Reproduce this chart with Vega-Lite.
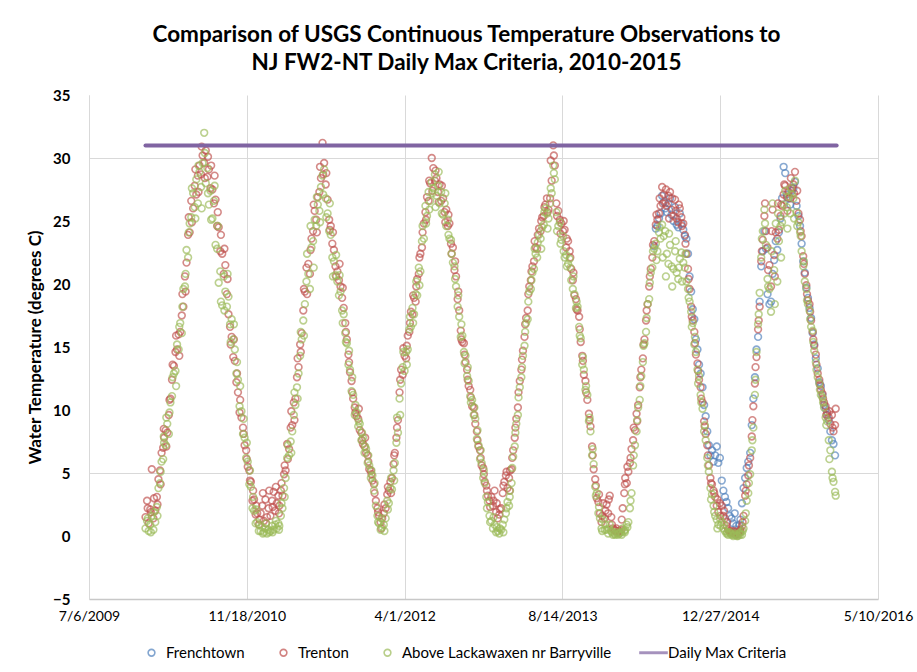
{
  "$schema": "https://vega.github.io/schema/vega-lite/v6.json",
  "width": 789,
  "height": 504,
  "autosize": "none",
  "padding": {"left": 89, "top": 95, "right": 39, "bottom": 73},
  "background": "white",
  "title": {
    "text": ["Comparison of USGS Continuous Temperature Observations to", "NJ FW2-NT Daily Max Criteria, 2010-2015"],
    "font": "Lato",
    "fontSize": 22.5,
    "fontWeight": "bold",
    "color": "#000000",
    "anchor": "middle",
    "dx": -17,
    "offset": 14,
    "lineHeight": 28
  },
  "config": {
    "view": {"stroke": null},
    "axis": {"ticks": false, "labelColor": "#000000", "titleColor": "#000000"}
  },
  "datasets": {
    "crit": [{"d": "2010-01-01", "t": 31}, {"d": "2015-12-31", "t": 31}],
    "fr": [
{"d":"2014-06-01","t":23.0},{"d":"2014-06-06","t":24.4},{"d":"2014-06-11","t":24.6},{"d":"2014-06-16","t":25.2},{"d":"2014-06-21","t":25.6},{"d":"2014-06-26","t":27.0},
{"d":"2014-07-01","t":26.5},{"d":"2014-07-06","t":26.0},{"d":"2014-07-11","t":25.7},{"d":"2014-07-16","t":26.4},{"d":"2014-07-21","t":26.8},{"d":"2014-07-26","t":25.5},
{"d":"2014-08-01","t":25.0},{"d":"2014-08-06","t":26.1},{"d":"2014-08-11","t":24.7},{"d":"2014-08-16","t":24.5},{"d":"2014-08-21","t":25.6},{"d":"2014-08-26","t":24.8},
{"d":"2014-09-01","t":24.3},{"d":"2014-09-06","t":23.8},{"d":"2014-09-11","t":23.6},{"d":"2014-09-16","t":22.4},{"d":"2014-09-21","t":20.6},{"d":"2014-09-26","t":19.4},
{"d":"2014-10-01","t":18.0},{"d":"2014-10-06","t":17.2},{"d":"2014-10-11","t":15.6},{"d":"2014-10-16","t":14.8},{"d":"2014-10-21","t":13.6},{"d":"2014-10-26","t":12.9},
{"d":"2014-11-01","t":11.8},{"d":"2014-11-06","t":10.4},{"d":"2014-11-11","t":9.5},{"d":"2014-11-16","t":8.3},{"d":"2014-11-21","t":7.2},{"d":"2014-11-26","t":6.4},
{"d":"2014-12-01","t":6.8},{"d":"2014-12-06","t":5.9},{"d":"2014-12-11","t":6.4},{"d":"2014-12-16","t":7.1},{"d":"2014-12-21","t":5.8},{"d":"2014-12-26","t":6.2},
{"d":"2015-01-01","t":4.4},{"d":"2015-01-06","t":3.6},{"d":"2015-01-11","t":3.1},{"d":"2015-01-16","t":2.7},{"d":"2015-01-21","t":2.2},{"d":"2015-01-26","t":1.6},
{"d":"2015-02-01","t":1.4},{"d":"2015-02-06","t":1.0},{"d":"2015-02-11","t":1.8},{"d":"2015-02-16","t":0.8},{"d":"2015-02-21","t":0.5},{"d":"2015-02-26","t":0.9},
{"d":"2015-03-01","t":1.3},{"d":"2015-03-06","t":2.6},{"d":"2015-03-11","t":3.8},{"d":"2015-03-16","t":4.6},{"d":"2015-03-21","t":5.4},{"d":"2015-03-26","t":5.9},
{"d":"2015-04-01","t":6.6},{"d":"2015-04-06","t":8.8},{"d":"2015-04-11","t":10.9},{"d":"2015-04-16","t":12.6},{"d":"2015-04-21","t":14.8},{"d":"2015-04-26","t":15.8},
{"d":"2015-05-01","t":18.6},{"d":"2015-05-06","t":21.4},{"d":"2015-05-11","t":22.6},{"d":"2015-05-16","t":24.2},{"d":"2015-05-21","t":22.8},{"d":"2015-05-26","t":19.2},
{"d":"2015-06-01","t":18.4},{"d":"2015-06-06","t":18.6},{"d":"2015-06-11","t":20.8},{"d":"2015-06-16","t":21.9},{"d":"2015-06-21","t":23.4},{"d":"2015-06-26","t":22.7},
{"d":"2015-07-01","t":24.1},{"d":"2015-07-06","t":25.2},{"d":"2015-07-11","t":26.8},{"d":"2015-07-16","t":29.3},{"d":"2015-07-21","t":28.8},{"d":"2015-07-26","t":27.1},
{"d":"2015-08-01","t":26.8},{"d":"2015-08-06","t":26.3},{"d":"2015-08-11","t":27.4},{"d":"2015-08-16","t":27.6},{"d":"2015-08-21","t":28.1},{"d":"2015-08-26","t":26.2},
{"d":"2015-09-01","t":25.4},{"d":"2015-09-06","t":24.6},{"d":"2015-09-11","t":23.2},{"d":"2015-09-16","t":21.8},{"d":"2015-09-21","t":20.9},{"d":"2015-09-26","t":19.7},
{"d":"2015-10-01","t":18.9},{"d":"2015-10-06","t":18.1},{"d":"2015-10-11","t":17.3},{"d":"2015-10-16","t":16.1},{"d":"2015-10-21","t":15.2},{"d":"2015-10-26","t":14.1},
{"d":"2015-11-01","t":13.3},{"d":"2015-11-06","t":12.2},{"d":"2015-11-11","t":11.9},{"d":"2015-11-16","t":11.2},{"d":"2015-11-21","t":10.4},{"d":"2015-11-26","t":10.1},
{"d":"2015-12-01","t":9.6},{"d":"2015-12-06","t":9.2},{"d":"2015-12-11","t":8.3},{"d":"2015-12-16","t":7.6},{"d":"2015-12-21","t":7.3},{"d":"2015-12-26","t":6.4}
    ],
    "tr": [
{"d":"2010-01-01","t":1.5},{"d":"2010-01-06","t":2.8},{"d":"2010-01-11","t":1.0},{"d":"2010-01-16","t":2.1},{"d":"2010-01-21","t":5.3},{"d":"2010-01-26","t":1.4},
{"d":"2010-02-01","t":2.0},{"d":"2010-02-06","t":3.1},{"d":"2010-02-11","t":4.5},{"d":"2010-02-16","t":5.2},{"d":"2010-02-21","t":6.6},{"d":"2010-02-26","t":7.0},
{"d":"2010-03-01","t":7.8},{"d":"2010-03-06","t":8.4},{"d":"2010-03-11","t":8.2},{"d":"2010-03-16","t":9.6},{"d":"2010-03-21","t":10.9},{"d":"2010-03-26","t":12.4},
{"d":"2010-04-01","t":13.5},{"d":"2010-04-06","t":14.6},{"d":"2010-04-11","t":14.8},{"d":"2010-04-16","t":16.0},{"d":"2010-04-21","t":16.2},{"d":"2010-04-26","t":17.5},
{"d":"2010-05-01","t":18.2},{"d":"2010-05-06","t":20.6},{"d":"2010-05-11","t":21.7},{"d":"2010-05-16","t":23.9},{"d":"2010-05-21","t":24.1},{"d":"2010-05-26","t":26.6},
{"d":"2010-06-01","t":26.0},{"d":"2010-06-06","t":27.8},{"d":"2010-06-11","t":27.1},{"d":"2010-06-16","t":28.6},{"d":"2010-06-21","t":29.4},{"d":"2010-06-26","t":28.7},
{"d":"2010-07-01","t":30.2},{"d":"2010-07-06","t":29.6},{"d":"2010-07-11","t":30.6},{"d":"2010-07-16","t":28.5},{"d":"2010-07-21","t":29.1},{"d":"2010-07-26","t":27.6},
{"d":"2010-08-01","t":27.5},{"d":"2010-08-06","t":26.4},{"d":"2010-08-11","t":26.7},{"d":"2010-08-16","t":24.6},{"d":"2010-08-21","t":24.5},{"d":"2010-08-26","t":22.6},
{"d":"2010-09-01","t":22.4},{"d":"2010-09-06","t":20.8},{"d":"2010-09-11","t":21.5},{"d":"2010-09-16","t":19.2},{"d":"2010-09-21","t":17.6},{"d":"2010-09-26","t":16.6},
{"d":"2010-10-01","t":15.8},{"d":"2010-10-06","t":14.2},{"d":"2010-10-11","t":13.9},{"d":"2010-10-16","t":12.2},{"d":"2010-10-21","t":11.4},{"d":"2010-10-26","t":9.8},
{"d":"2010-11-01","t":9.4},{"d":"2010-11-06","t":8.6},{"d":"2010-11-11","t":7.2},{"d":"2010-11-16","t":6.8},{"d":"2010-11-21","t":5.5},{"d":"2010-11-26","t":5.2},
{"d":"2010-12-01","t":4.3},{"d":"2010-12-06","t":2.8},{"d":"2010-12-11","t":2.9},{"d":"2010-12-16","t":1.7},{"d":"2010-12-21","t":1.8},{"d":"2010-12-26","t":0.9},
{"d":"2011-01-01","t":1.8},{"d":"2011-01-06","t":2.4},{"d":"2011-01-11","t":1.2},{"d":"2011-01-16","t":2.9},{"d":"2011-01-21","t":1.5},{"d":"2011-01-26","t":2.2},
{"d":"2011-02-01","t":1.6},{"d":"2011-02-06","t":2.8},{"d":"2011-02-11","t":3.5},{"d":"2011-02-16","t":2.0},{"d":"2011-02-21","t":2.6},{"d":"2011-02-26","t":3.2},
{"d":"2011-03-01","t":2.4},{"d":"2011-03-06","t":3.6},{"d":"2011-03-11","t":3.2},{"d":"2011-03-16","t":4.9},{"d":"2011-03-21","t":5.2},{"d":"2011-03-26","t":7.3},
{"d":"2011-04-01","t":6.9},{"d":"2011-04-06","t":8.6},{"d":"2011-04-11","t":8.8},{"d":"2011-04-16","t":10.6},{"d":"2011-04-21","t":10.9},{"d":"2011-04-26","t":12.6},
{"d":"2011-05-01","t":13.4},{"d":"2011-05-06","t":15.2},{"d":"2011-05-11","t":16.1},{"d":"2011-05-16","t":17.9},{"d":"2011-05-21","t":19.4},{"d":"2011-05-26","t":21.3},
{"d":"2011-06-01","t":21.6},{"d":"2011-06-06","t":20.8},{"d":"2011-06-11","t":23.6},{"d":"2011-06-16","t":24.2},{"d":"2011-06-21","t":25.8},{"d":"2011-06-26","t":25.1},
{"d":"2011-07-01","t":26.9},{"d":"2011-07-06","t":27.3},{"d":"2011-07-11","t":28.4},{"d":"2011-07-16","t":31.2},{"d":"2011-07-21","t":29.6},{"d":"2011-07-26","t":27.9},
{"d":"2011-08-01","t":26.7},{"d":"2011-08-06","t":25.1},{"d":"2011-08-11","t":24.6},{"d":"2011-08-16","t":23.2},{"d":"2011-08-21","t":22.7},{"d":"2011-08-26","t":21.4},
{"d":"2011-09-01","t":21.0},{"d":"2011-09-06","t":20.3},{"d":"2011-09-11","t":19.8},{"d":"2011-09-16","t":18.9},{"d":"2011-09-21","t":18.1},{"d":"2011-09-26","t":16.9},
{"d":"2011-10-01","t":15.6},{"d":"2011-10-06","t":14.4},{"d":"2011-10-11","t":13.0},{"d":"2011-10-16","t":12.3},{"d":"2011-10-21","t":10.9},{"d":"2011-10-26","t":10.2},
{"d":"2011-11-01","t":9.5},{"d":"2011-11-06","t":9.3},{"d":"2011-11-11","t":8.4},{"d":"2011-11-16","t":8.2},{"d":"2011-11-21","t":7.3},{"d":"2011-11-26","t":7.1},
{"d":"2011-12-01","t":6.6},{"d":"2011-12-06","t":6.4},{"d":"2011-12-11","t":5.3},{"d":"2011-12-16","t":5.2},{"d":"2011-12-21","t":4.4},{"d":"2011-12-26","t":4.1},
{"d":"2012-01-01","t":2.8},{"d":"2012-01-06","t":2.2},{"d":"2012-01-11","t":1.6},{"d":"2012-01-16","t":1.1},{"d":"2012-01-21","t":1.4},{"d":"2012-01-26","t":1.8},
{"d":"2012-02-01","t":2.2},{"d":"2012-02-06","t":3.3},{"d":"2012-02-11","t":3.6},{"d":"2012-02-16","t":4.3},{"d":"2012-02-21","t":4.6},{"d":"2012-02-26","t":5.7},
{"d":"2012-03-01","t":6.6},{"d":"2012-03-06","t":7.8},{"d":"2012-03-11","t":9.2},{"d":"2012-03-16","t":11.4},{"d":"2012-03-21","t":13.2},{"d":"2012-03-26","t":12.8},
{"d":"2012-04-01","t":14.3},{"d":"2012-04-06","t":14.1},{"d":"2012-04-11","t":15.9},{"d":"2012-04-16","t":16.2},{"d":"2012-04-21","t":17.8},{"d":"2012-04-26","t":17.6},
{"d":"2012-05-01","t":18.9},{"d":"2012-05-06","t":18.6},{"d":"2012-05-11","t":20.4},{"d":"2012-05-16","t":20.8},{"d":"2012-05-21","t":22.4},{"d":"2012-05-26","t":22.9},
{"d":"2012-06-01","t":24.8},{"d":"2012-06-06","t":25.7},{"d":"2012-06-11","t":26.9},{"d":"2012-06-16","t":26.6},{"d":"2012-06-21","t":28.0},{"d":"2012-06-26","t":30.0},
{"d":"2012-07-01","t":29.2},{"d":"2012-07-06","t":28.2},{"d":"2012-07-11","t":28.4},{"d":"2012-07-16","t":27.3},{"d":"2012-07-21","t":27.9},{"d":"2012-07-26","t":26.6},
{"d":"2012-08-01","t":26.8},{"d":"2012-08-06","t":25.7},{"d":"2012-08-11","t":25.9},{"d":"2012-08-16","t":24.6},{"d":"2012-08-21","t":24.8},{"d":"2012-08-26","t":23.2},
{"d":"2012-09-01","t":22.9},{"d":"2012-09-06","t":21.1},{"d":"2012-09-11","t":20.6},{"d":"2012-09-16","t":18.8},{"d":"2012-09-21","t":17.9},{"d":"2012-09-26","t":16.3},
{"d":"2012-10-01","t":15.4},{"d":"2012-10-06","t":15.3},{"d":"2012-10-11","t":13.8},{"d":"2012-10-16","t":13.2},{"d":"2012-10-21","t":11.9},{"d":"2012-10-26","t":11.6},
{"d":"2012-11-01","t":10.3},{"d":"2012-11-06","t":10.2},{"d":"2012-11-11","t":8.9},{"d":"2012-11-16","t":8.3},{"d":"2012-11-21","t":7.1},{"d":"2012-11-26","t":6.8},
{"d":"2012-12-01","t":5.6},{"d":"2012-12-06","t":5.4},{"d":"2012-12-11","t":4.3},{"d":"2012-12-16","t":4.0},{"d":"2012-12-21","t":3.2},{"d":"2012-12-26","t":2.8},
{"d":"2013-01-01","t":3.1},{"d":"2013-01-06","t":2.4},{"d":"2013-01-11","t":3.6},{"d":"2013-01-16","t":1.9},{"d":"2013-01-21","t":1.4},{"d":"2013-01-26","t":1.7},
{"d":"2013-02-01","t":2.2},{"d":"2013-02-06","t":3.4},{"d":"2013-02-11","t":4.3},{"d":"2013-02-16","t":4.8},{"d":"2013-02-21","t":3.8},{"d":"2013-02-26","t":4.6},
{"d":"2013-03-01","t":5.2},{"d":"2013-03-06","t":5.3},{"d":"2013-03-11","t":6.8},{"d":"2013-03-16","t":7.8},{"d":"2013-03-21","t":9.3},{"d":"2013-03-26","t":10.2},
{"d":"2013-04-01","t":12.3},{"d":"2013-04-06","t":13.2},{"d":"2013-04-11","t":14.7},{"d":"2013-04-16","t":15.8},{"d":"2013-04-21","t":17.3},{"d":"2013-04-26","t":17.9},
{"d":"2013-05-01","t":19.8},{"d":"2013-05-06","t":20.3},{"d":"2013-05-11","t":21.4},{"d":"2013-05-16","t":21.8},{"d":"2013-05-21","t":22.9},{"d":"2013-05-26","t":22.8},
{"d":"2013-06-01","t":24.4},{"d":"2013-06-06","t":24.2},{"d":"2013-06-11","t":25.3},{"d":"2013-06-16","t":25.4},{"d":"2013-06-21","t":26.3},{"d":"2013-06-26","t":26.8},
{"d":"2013-07-01","t":25.9},{"d":"2013-07-06","t":26.8},{"d":"2013-07-11","t":28.2},{"d":"2013-07-16","t":31.0},{"d":"2013-07-21","t":29.4},{"d":"2013-07-26","t":26.4},
{"d":"2013-08-01","t":25.8},{"d":"2013-08-06","t":25.1},{"d":"2013-08-11","t":24.8},{"d":"2013-08-16","t":24.2},{"d":"2013-08-21","t":24.3},{"d":"2013-08-26","t":22.9},
{"d":"2013-09-01","t":23.4},{"d":"2013-09-06","t":22.6},{"d":"2013-09-11","t":21.2},{"d":"2013-09-16","t":20.3},{"d":"2013-09-21","t":19.1},{"d":"2013-09-26","t":18.8},
{"d":"2013-10-01","t":17.9},{"d":"2013-10-06","t":17.4},{"d":"2013-10-11","t":15.4},{"d":"2013-10-16","t":14.3},{"d":"2013-10-21","t":12.8},{"d":"2013-10-26","t":12.3},
{"d":"2013-11-01","t":10.8},{"d":"2013-11-06","t":9.7},{"d":"2013-11-11","t":8.7},{"d":"2013-11-16","t":7.1},{"d":"2013-11-21","t":5.3},{"d":"2013-11-26","t":4.5},
{"d":"2013-12-01","t":3.0},{"d":"2013-12-06","t":2.7},{"d":"2013-12-11","t":1.8},{"d":"2013-12-16","t":1.1},{"d":"2013-12-21","t":2.6},{"d":"2013-12-26","t":1.4},
{"d":"2014-01-01","t":2.5},{"d":"2014-01-06","t":1.8},{"d":"2014-01-11","t":3.2},{"d":"2014-01-16","t":1.5},{"d":"2014-01-21","t":0.6},{"d":"2014-01-26","t":0.5},
{"d":"2014-02-01","t":0.6},{"d":"2014-02-06","t":0.3},{"d":"2014-02-11","t":0.4},{"d":"2014-02-16","t":0.5},{"d":"2014-02-21","t":2.2},{"d":"2014-02-26","t":3.4},
{"d":"2014-03-01","t":4.6},{"d":"2014-03-06","t":4.2},{"d":"2014-03-11","t":5.1},{"d":"2014-03-16","t":5.8},{"d":"2014-03-21","t":6.9},{"d":"2014-03-26","t":7.6},
{"d":"2014-04-01","t":8.4},{"d":"2014-04-06","t":9.7},{"d":"2014-04-11","t":10.4},{"d":"2014-04-16","t":11.8},{"d":"2014-04-21","t":13.2},{"d":"2014-04-26","t":14.1},
{"d":"2014-05-01","t":15.6},{"d":"2014-05-06","t":17.1},{"d":"2014-05-11","t":18.4},{"d":"2014-05-16","t":19.8},{"d":"2014-05-21","t":21.2},{"d":"2014-05-26","t":22.1},
{"d":"2014-06-01","t":23.4},{"d":"2014-06-06","t":24.7},{"d":"2014-06-11","t":25.1},{"d":"2014-06-16","t":25.6},{"d":"2014-06-21","t":26.2},{"d":"2014-06-26","t":27.7},
{"d":"2014-07-01","t":27.1},{"d":"2014-07-06","t":26.4},{"d":"2014-07-11","t":26.2},{"d":"2014-07-16","t":27.0},{"d":"2014-07-21","t":27.3},{"d":"2014-07-26","t":25.9},
{"d":"2014-08-01","t":25.4},{"d":"2014-08-06","t":26.7},{"d":"2014-08-11","t":25.2},{"d":"2014-08-16","t":24.9},{"d":"2014-08-21","t":26.0},{"d":"2014-08-26","t":25.3},
{"d":"2014-09-01","t":24.8},{"d":"2014-09-06","t":23.9},{"d":"2014-09-11","t":22.4},{"d":"2014-09-16","t":21.2},{"d":"2014-09-21","t":19.6},{"d":"2014-09-26","t":18.2},
{"d":"2014-10-01","t":17.1},{"d":"2014-10-06","t":16.2},{"d":"2014-10-11","t":14.4},{"d":"2014-10-16","t":13.7},{"d":"2014-10-21","t":12.4},{"d":"2014-10-26","t":11.8},
{"d":"2014-11-01","t":10.6},{"d":"2014-11-06","t":9.1},{"d":"2014-11-11","t":8.1},{"d":"2014-11-16","t":7.2},{"d":"2014-11-21","t":5.6},{"d":"2014-11-26","t":4.6},
{"d":"2014-12-01","t":4.1},{"d":"2014-12-06","t":3.6},{"d":"2014-12-11","t":3.1},{"d":"2014-12-16","t":2.4},{"d":"2014-12-21","t":1.9},{"d":"2014-12-26","t":2.6},
{"d":"2015-01-01","t":2.4},{"d":"2015-01-06","t":1.6},{"d":"2015-01-11","t":1.4},{"d":"2015-01-16","t":0.8},{"d":"2015-01-21","t":0.5},{"d":"2015-01-26","t":0.4},
{"d":"2015-02-01","t":0.3},{"d":"2015-02-06","t":0.2},{"d":"2015-02-11","t":0.3},{"d":"2015-02-16","t":0.1},{"d":"2015-02-21","t":0.2},{"d":"2015-02-26","t":0.3},
{"d":"2015-03-01","t":0.5},{"d":"2015-03-06","t":0.8},{"d":"2015-03-11","t":1.6},{"d":"2015-03-16","t":3.2},{"d":"2015-03-21","t":4.1},{"d":"2015-03-26","t":4.8},
{"d":"2015-04-01","t":6.2},{"d":"2015-04-06","t":7.9},{"d":"2015-04-11","t":10.3},{"d":"2015-04-16","t":12.1},{"d":"2015-04-21","t":14.2},{"d":"2015-04-26","t":16.4},
{"d":"2015-05-01","t":18.2},{"d":"2015-05-06","t":21.8},{"d":"2015-05-11","t":23.5},{"d":"2015-05-16","t":25.4},{"d":"2015-05-21","t":24.2},{"d":"2015-05-26","t":22.9},
{"d":"2015-06-01","t":21.5},{"d":"2015-06-06","t":19.8},{"d":"2015-06-11","t":25.9},{"d":"2015-06-16","t":22.3},{"d":"2015-06-21","t":24.1},{"d":"2015-06-26","t":23.6},
{"d":"2015-07-01","t":24.3},{"d":"2015-07-06","t":25.4},{"d":"2015-07-11","t":26.2},{"d":"2015-07-16","t":27.1},{"d":"2015-07-21","t":27.8},{"d":"2015-07-26","t":26.9},
{"d":"2015-08-01","t":27.3},{"d":"2015-08-06","t":26.8},{"d":"2015-08-11","t":27.6},{"d":"2015-08-16","t":27.9},{"d":"2015-08-21","t":28.9},{"d":"2015-08-26","t":26.6},
{"d":"2015-09-01","t":25.6},{"d":"2015-09-06","t":25.1},{"d":"2015-09-11","t":23.8},{"d":"2015-09-16","t":22.2},{"d":"2015-09-21","t":20.8},{"d":"2015-09-26","t":19.9},
{"d":"2015-10-01","t":18.7},{"d":"2015-10-06","t":18.4},{"d":"2015-10-11","t":17.1},{"d":"2015-10-16","t":16.2},{"d":"2015-10-21","t":15.1},{"d":"2015-10-26","t":14.4},
{"d":"2015-11-01","t":12.9},{"d":"2015-11-06","t":12.4},{"d":"2015-11-11","t":11.6},{"d":"2015-11-16","t":11.3},{"d":"2015-11-21","t":10.6},{"d":"2015-11-26","t":10.3},
{"d":"2015-12-01","t":9.8},{"d":"2015-12-06","t":9.4},{"d":"2015-12-11","t":8.9},{"d":"2015-12-16","t":9.6},{"d":"2015-12-21","t":8.3},{"d":"2015-12-26","t":8.8},
{"d":"2010-01-08","t":2.2},{"d":"2010-01-18","t":1.9},{"d":"2010-01-28","t":3.0},{"d":"2010-02-08","t":2.5},{"d":"2010-02-18","t":4.1},{"d":"2010-02-28","t":8.5},
{"d":"2010-03-08","t":7.1},{"d":"2010-03-18","t":10.8},{"d":"2010-03-28","t":13.6},{"d":"2010-04-08","t":15.9},{"d":"2010-04-18","t":14.3},{"d":"2010-04-28","t":19.2},
{"d":"2010-05-08","t":19.4},{"d":"2010-05-18","t":25.3},{"d":"2010-05-28","t":24.9},{"d":"2010-06-08","t":29.1},{"d":"2010-06-18","t":27.3},{"d":"2010-06-28","t":30.9},
{"d":"2010-07-08","t":28.4},{"d":"2010-07-18","t":30.1},{"d":"2010-07-28","t":29.4},{"d":"2010-08-08","t":28.6},{"d":"2010-08-18","t":25.7},{"d":"2010-08-28","t":23.9},
{"d":"2010-09-08","t":22.8},{"d":"2010-09-18","t":20.4},{"d":"2010-09-28","t":15.2},{"d":"2010-10-08","t":15.6},{"d":"2010-10-18","t":12.9},{"d":"2010-10-28","t":10.8},
{"d":"2010-11-08","t":8.1},{"d":"2010-11-18","t":6.1},{"d":"2010-11-28","t":4.4},{"d":"2010-12-08","t":3.6},{"d":"2010-12-18","t":2.4},{"d":"2010-12-28","t":1.3},
{"d":"2011-01-08","t":3.4},{"d":"2011-01-18","t":1.0},{"d":"2011-01-28","t":3.6},{"d":"2011-02-08","t":2.3},{"d":"2011-02-18","t":3.9},{"d":"2011-02-28","t":1.8},
{"d":"2011-03-08","t":4.2},{"d":"2011-03-18","t":5.6},{"d":"2011-03-28","t":6.1},{"d":"2011-04-08","t":9.9},{"d":"2011-04-18","t":9.2},{"d":"2011-04-28","t":14.1},
{"d":"2011-05-08","t":14.6},{"d":"2011-05-18","t":19.6},{"d":"2011-05-28","t":19.2},{"d":"2011-06-08","t":22.7},{"d":"2011-06-18","t":26.3},{"d":"2011-06-28","t":24.1},
{"d":"2011-07-08","t":29.3},{"d":"2011-07-18","t":28.7},{"d":"2011-07-28","t":28.8},{"d":"2011-08-08","t":24.3},{"d":"2011-08-18","t":24.1},{"d":"2011-08-28","t":20.6},
{"d":"2011-09-08","t":21.6},{"d":"2011-09-18","t":19.7},{"d":"2011-09-28","t":16.2},{"d":"2011-10-08","t":13.8},{"d":"2011-10-18","t":11.4},{"d":"2011-10-28","t":9.8},
{"d":"2011-11-08","t":10.1},{"d":"2011-11-18","t":7.6},{"d":"2011-11-28","t":7.8},{"d":"2011-12-08","t":5.9},{"d":"2011-12-18","t":4.9},{"d":"2011-12-28","t":3.4},
{"d":"2012-01-08","t":1.9},{"d":"2012-01-18","t":0.6},{"d":"2012-01-28","t":2.5},{"d":"2012-02-08","t":3.9},{"d":"2012-02-18","t":3.4},{"d":"2012-02-28","t":6.4},
{"d":"2012-03-08","t":8.6},{"d":"2012-03-18","t":12.4},{"d":"2012-03-28","t":14.9},{"d":"2012-04-08","t":15.1},{"d":"2012-04-18","t":16.9},{"d":"2012-04-28","t":19.1},
{"d":"2012-05-08","t":19.8},{"d":"2012-05-18","t":22.1},{"d":"2012-05-28","t":24.1},{"d":"2012-06-08","t":25.1},{"d":"2012-06-18","t":28.2},{"d":"2012-06-28","t":27.4},
{"d":"2012-07-08","t":29.0},{"d":"2012-07-18","t":26.5},{"d":"2012-07-28","t":27.8},{"d":"2012-08-08","t":24.9},{"d":"2012-08-18","t":25.5},{"d":"2012-08-28","t":22.4},
{"d":"2012-09-08","t":21.8},{"d":"2012-09-18","t":19.4},{"d":"2012-09-28","t":15.6},{"d":"2012-10-08","t":14.4},{"d":"2012-10-18","t":12.4},{"d":"2012-10-28","t":11.0},
{"d":"2012-11-08","t":9.6},{"d":"2012-11-18","t":7.6},{"d":"2012-11-28","t":6.2},{"d":"2012-12-08","t":4.9},{"d":"2012-12-18","t":3.6},{"d":"2012-12-28","t":2.3},
{"d":"2013-01-08","t":2.8},{"d":"2013-01-18","t":2.6},{"d":"2013-01-28","t":2.1},{"d":"2013-02-08","t":4.0},{"d":"2013-02-18","t":5.1},{"d":"2013-02-28","t":3.6},
{"d":"2013-03-08","t":6.2},{"d":"2013-03-18","t":8.6},{"d":"2013-03-28","t":11.4},{"d":"2013-04-08","t":14.0},{"d":"2013-04-18","t":16.8},{"d":"2013-04-28","t":19.2},
{"d":"2013-05-08","t":21.0},{"d":"2013-05-18","t":23.4},{"d":"2013-05-28","t":23.9},{"d":"2013-06-08","t":25.0},{"d":"2013-06-18","t":26.1},{"d":"2013-06-28","t":25.7},
{"d":"2013-07-08","t":29.8},{"d":"2013-07-18","t":30.2},{"d":"2013-07-28","t":25.4},{"d":"2013-08-08","t":24.0},{"d":"2013-08-18","t":25.0},{"d":"2013-08-28","t":23.6},
{"d":"2013-09-08","t":22.1},{"d":"2013-09-18","t":20.9},{"d":"2013-09-28","t":18.0},{"d":"2013-10-08","t":16.4},{"d":"2013-10-18","t":13.9},{"d":"2013-10-28","t":11.4},
{"d":"2013-11-08","t":9.2},{"d":"2013-11-18","t":6.4},{"d":"2013-11-28","t":4.0},{"d":"2013-12-08","t":3.3},{"d":"2013-12-18","t":1.6},{"d":"2013-12-28","t":2.0},
{"d":"2014-01-08","t":2.9},{"d":"2014-01-18","t":0.9},{"d":"2014-01-28","t":0.4},{"d":"2014-02-08","t":0.4},{"d":"2014-02-18","t":1.3},{"d":"2014-02-28","t":4.1},
{"d":"2014-03-08","t":5.5},{"d":"2014-03-18","t":6.2},{"d":"2014-03-28","t":8.6},{"d":"2014-04-08","t":9.1},{"d":"2014-04-18","t":12.6},{"d":"2014-04-28","t":15.2},
{"d":"2014-05-08","t":17.9},{"d":"2014-05-18","t":20.6},{"d":"2014-05-28","t":23.1},{"d":"2014-06-08","t":25.5},{"d":"2014-06-18","t":26.8},{"d":"2014-06-28","t":26.4},
{"d":"2014-07-08","t":27.5},{"d":"2014-07-18","t":25.2},{"d":"2014-07-28","t":26.8},{"d":"2014-08-08","t":25.8},{"d":"2014-08-18","t":26.3},{"d":"2014-08-28","t":24.6},
{"d":"2014-09-08","t":23.2},{"d":"2014-09-18","t":20.4},{"d":"2014-09-28","t":17.4},{"d":"2014-10-08","t":15.3},{"d":"2014-10-18","t":13.1},{"d":"2014-10-28","t":10.9},
{"d":"2014-11-08","t":8.7},{"d":"2014-11-18","t":6.4},{"d":"2014-11-28","t":4.2},{"d":"2014-12-08","t":3.4},{"d":"2014-12-18","t":2.9},{"d":"2014-12-28","t":1.6},
{"d":"2015-01-08","t":2.0},{"d":"2015-01-18","t":1.1},{"d":"2015-01-28","t":0.3},{"d":"2015-02-08","t":0.4},{"d":"2015-02-18","t":0.2},{"d":"2015-02-28","t":0.4},
{"d":"2015-03-08","t":1.1},{"d":"2015-03-18","t":3.6},{"d":"2015-03-28","t":5.6},{"d":"2015-04-08","t":9.2},{"d":"2015-04-18","t":13.4},{"d":"2015-04-28","t":17.1},
{"d":"2015-05-08","t":22.6},{"d":"2015-05-18","t":26.4},{"d":"2015-05-28","t":21.1},{"d":"2015-06-08","t":24.2},{"d":"2015-06-18","t":20.6},{"d":"2015-06-28","t":26.4},
{"d":"2015-07-08","t":26.3},{"d":"2015-07-18","t":27.9},{"d":"2015-07-28","t":25.8},{"d":"2015-08-08","t":28.4},{"d":"2015-08-18","t":27.2},{"d":"2015-08-28","t":27.4},
{"d":"2015-09-08","t":24.2},{"d":"2015-09-18","t":21.6},{"d":"2015-09-28","t":19.2},{"d":"2015-10-08","t":17.8},{"d":"2015-10-18","t":15.6},{"d":"2015-10-28","t":13.6},
{"d":"2015-11-08","t":12.0},{"d":"2015-11-18","t":10.9},{"d":"2015-11-28","t":9.6},{"d":"2015-12-08","t":9.9},{"d":"2015-12-18","t":8.6},{"d":"2015-12-28","t":10.1}
    ],
    "ba": [
{"d":"2010-01-01","t":0.6},{"d":"2010-01-06","t":1.2},{"d":"2010-01-11","t":0.4},{"d":"2010-01-16","t":0.9},{"d":"2010-01-21","t":1.6},{"d":"2010-01-26","t":0.5},
{"d":"2010-02-01","t":1.1},{"d":"2010-02-06","t":2.3},{"d":"2010-02-11","t":3.8},{"d":"2010-02-16","t":4.2},{"d":"2010-02-21","t":5.9},{"d":"2010-02-26","t":6.1},
{"d":"2010-03-01","t":7.4},{"d":"2010-03-06","t":7.2},{"d":"2010-03-11","t":8.9},{"d":"2010-03-16","t":8.1},{"d":"2010-03-21","t":10.6},{"d":"2010-03-26","t":11.1},
{"d":"2010-04-01","t":12.9},{"d":"2010-04-06","t":13.1},{"d":"2010-04-11","t":15.2},{"d":"2010-04-16","t":14.8},{"d":"2010-04-21","t":16.9},{"d":"2010-04-26","t":16.1},
{"d":"2010-05-01","t":19.6},{"d":"2010-05-06","t":19.8},{"d":"2010-05-11","t":22.7},{"d":"2010-05-16","t":22.1},{"d":"2010-05-21","t":24.8},{"d":"2010-05-26","t":25.3},
{"d":"2010-06-01","t":27.2},{"d":"2010-06-06","t":26.1},{"d":"2010-06-11","t":28.3},{"d":"2010-06-16","t":26.4},{"d":"2010-06-21","t":28.9},{"d":"2010-06-26","t":27.7},
{"d":"2010-07-01","t":29.6},{"d":"2010-07-06","t":32.0},{"d":"2010-07-11","t":28.0},{"d":"2010-07-16","t":29.2},{"d":"2010-07-21","t":26.3},{"d":"2010-07-26","t":27.4},
{"d":"2010-08-01","t":25.2},{"d":"2010-08-06","t":26.6},{"d":"2010-08-11","t":23.1},{"d":"2010-08-16","t":22.8},{"d":"2010-08-21","t":20.1},{"d":"2010-08-26","t":21.0},
{"d":"2010-09-01","t":18.3},{"d":"2010-09-06","t":20.6},{"d":"2010-09-11","t":19.4},{"d":"2010-09-16","t":18.2},{"d":"2010-09-21","t":19.0},{"d":"2010-09-26","t":16.8},
{"d":"2010-10-01","t":17.2},{"d":"2010-10-06","t":15.6},{"d":"2010-10-11","t":14.8},{"d":"2010-10-16","t":12.9},{"d":"2010-10-21","t":12.4},{"d":"2010-10-26","t":10.3},
{"d":"2010-11-01","t":9.9},{"d":"2010-11-06","t":8.1},{"d":"2010-11-11","t":7.8},{"d":"2010-11-16","t":6.2},{"d":"2010-11-21","t":5.9},{"d":"2010-11-26","t":4.1},
{"d":"2010-12-01","t":3.9},{"d":"2010-12-06","t":2.2},{"d":"2010-12-11","t":2.0},{"d":"2010-12-16","t":1.0},{"d":"2010-12-21","t":1.1},{"d":"2010-12-26","t":0.4},
{"d":"2011-01-01","t":0.4},{"d":"2011-01-06","t":0.7},{"d":"2011-01-11","t":0.3},{"d":"2011-01-16","t":0.6},{"d":"2011-01-21","t":0.2},{"d":"2011-01-26","t":0.5},
{"d":"2011-02-01","t":0.4},{"d":"2011-02-06","t":0.8},{"d":"2011-02-11","t":0.5},{"d":"2011-02-16","t":0.9},{"d":"2011-02-21","t":0.6},{"d":"2011-02-26","t":1.0},
{"d":"2011-03-01","t":0.8},{"d":"2011-03-06","t":1.6},{"d":"2011-03-11","t":2.2},{"d":"2011-03-16","t":3.8},{"d":"2011-03-21","t":4.6},{"d":"2011-03-26","t":6.2},
{"d":"2011-04-01","t":6.4},{"d":"2011-04-06","t":7.5},{"d":"2011-04-11","t":8.3},{"d":"2011-04-16","t":9.6},{"d":"2011-04-21","t":10.4},{"d":"2011-04-26","t":11.8},
{"d":"2011-05-01","t":12.9},{"d":"2011-05-06","t":14.3},{"d":"2011-05-11","t":15.6},{"d":"2011-05-16","t":17.1},{"d":"2011-05-21","t":18.4},{"d":"2011-05-26","t":20.2},
{"d":"2011-06-01","t":20.8},{"d":"2011-06-06","t":19.6},{"d":"2011-06-11","t":22.9},{"d":"2011-06-16","t":23.4},{"d":"2011-06-21","t":25.1},{"d":"2011-06-26","t":24.6},
{"d":"2011-07-01","t":26.3},{"d":"2011-07-06","t":25.8},{"d":"2011-07-11","t":27.7},{"d":"2011-07-16","t":28.6},{"d":"2011-07-21","t":29.1},{"d":"2011-07-26","t":26.8},
{"d":"2011-08-01","t":25.6},{"d":"2011-08-06","t":24.2},{"d":"2011-08-11","t":23.9},{"d":"2011-08-16","t":22.1},{"d":"2011-08-21","t":21.8},{"d":"2011-08-26","t":20.7},
{"d":"2011-09-01","t":20.2},{"d":"2011-09-06","t":19.1},{"d":"2011-09-11","t":19.4},{"d":"2011-09-16","t":17.9},{"d":"2011-09-21","t":17.6},{"d":"2011-09-26","t":16.1},
{"d":"2011-10-01","t":15.3},{"d":"2011-10-06","t":13.6},{"d":"2011-10-11","t":13.2},{"d":"2011-10-16","t":11.5},{"d":"2011-10-21","t":11.2},{"d":"2011-10-26","t":9.6},
{"d":"2011-11-01","t":9.8},{"d":"2011-11-06","t":8.7},{"d":"2011-11-11","t":8.9},{"d":"2011-11-16","t":7.6},{"d":"2011-11-21","t":7.8},{"d":"2011-11-26","t":6.6},
{"d":"2011-12-01","t":6.9},{"d":"2011-12-06","t":5.8},{"d":"2011-12-11","t":5.6},{"d":"2011-12-16","t":4.6},{"d":"2011-12-21","t":4.8},{"d":"2011-12-26","t":3.6},
{"d":"2012-01-01","t":2.4},{"d":"2012-01-06","t":1.6},{"d":"2012-01-11","t":1.0},{"d":"2012-01-16","t":0.5},{"d":"2012-01-21","t":0.7},{"d":"2012-01-26","t":0.9},
{"d":"2012-02-01","t":1.4},{"d":"2012-02-06","t":2.8},{"d":"2012-02-11","t":2.6},{"d":"2012-02-16","t":3.8},{"d":"2012-02-21","t":3.7},{"d":"2012-02-26","t":5.2},
{"d":"2012-03-01","t":5.8},{"d":"2012-03-06","t":7.4},{"d":"2012-03-11","t":8.2},{"d":"2012-03-16","t":10.9},{"d":"2012-03-21","t":12.1},{"d":"2012-03-26","t":13.4},
{"d":"2012-04-01","t":13.1},{"d":"2012-04-06","t":14.6},{"d":"2012-04-11","t":14.8},{"d":"2012-04-16","t":16.4},{"d":"2012-04-21","t":16.6},{"d":"2012-04-26","t":18.1},
{"d":"2012-05-01","t":17.6},{"d":"2012-05-06","t":19.2},{"d":"2012-05-11","t":19.1},{"d":"2012-05-16","t":21.3},{"d":"2012-05-21","t":21.0},{"d":"2012-05-26","t":23.4},
{"d":"2012-06-01","t":23.6},{"d":"2012-06-06","t":26.2},{"d":"2012-06-11","t":25.4},{"d":"2012-06-16","t":27.3},{"d":"2012-06-21","t":26.6},{"d":"2012-06-26","t":28.1},
{"d":"2012-07-01","t":27.6},{"d":"2012-07-06","t":28.7},{"d":"2012-07-11","t":27.0},{"d":"2012-07-16","t":27.8},{"d":"2012-07-21","t":26.4},{"d":"2012-07-26","t":27.3},
{"d":"2012-08-01","t":25.5},{"d":"2012-08-06","t":26.4},{"d":"2012-08-11","t":24.6},{"d":"2012-08-16","t":25.1},{"d":"2012-08-21","t":23.6},{"d":"2012-08-26","t":23.5},
{"d":"2012-09-01","t":21.7},{"d":"2012-09-06","t":21.4},{"d":"2012-09-11","t":19.8},{"d":"2012-09-16","t":18.2},{"d":"2012-09-21","t":17.4},{"d":"2012-09-26","t":15.8},
{"d":"2012-10-01","t":15.9},{"d":"2012-10-06","t":14.6},{"d":"2012-10-11","t":14.3},{"d":"2012-10-16","t":12.7},{"d":"2012-10-21","t":12.3},{"d":"2012-10-26","t":11.1},
{"d":"2012-11-01","t":10.8},{"d":"2012-11-06","t":9.6},{"d":"2012-11-11","t":9.3},{"d":"2012-11-16","t":7.7},{"d":"2012-11-21","t":7.2},{"d":"2012-11-26","t":6.1},
{"d":"2012-12-01","t":5.8},{"d":"2012-12-06","t":4.6},{"d":"2012-12-11","t":4.2},{"d":"2012-12-16","t":3.1},{"d":"2012-12-21","t":2.7},{"d":"2012-12-26","t":1.6},
{"d":"2013-01-01","t":1.2},{"d":"2013-01-06","t":0.6},{"d":"2013-01-11","t":0.9},{"d":"2013-01-16","t":0.3},{"d":"2013-01-21","t":0.4},{"d":"2013-01-26","t":0.2},
{"d":"2013-02-01","t":0.5},{"d":"2013-02-06","t":0.9},{"d":"2013-02-11","t":1.3},{"d":"2013-02-16","t":1.8},{"d":"2013-02-21","t":2.7},{"d":"2013-02-26","t":2.4},
{"d":"2013-03-01","t":3.6},{"d":"2013-03-06","t":4.2},{"d":"2013-03-11","t":6.3},{"d":"2013-03-16","t":7.1},{"d":"2013-03-21","t":8.9},{"d":"2013-03-26","t":9.6},
{"d":"2013-04-01","t":11.8},{"d":"2013-04-06","t":12.6},{"d":"2013-04-11","t":14.3},{"d":"2013-04-16","t":15.1},{"d":"2013-04-21","t":16.9},{"d":"2013-04-26","t":17.2},
{"d":"2013-05-01","t":19.4},{"d":"2013-05-06","t":19.6},{"d":"2013-05-11","t":20.9},{"d":"2013-05-16","t":21.2},{"d":"2013-05-21","t":22.4},{"d":"2013-05-26","t":22.1},
{"d":"2013-06-01","t":23.9},{"d":"2013-06-06","t":23.6},{"d":"2013-06-11","t":24.5},{"d":"2013-06-16","t":24.7},{"d":"2013-06-21","t":26.0},{"d":"2013-06-26","t":25.6},
{"d":"2013-07-01","t":25.2},{"d":"2013-07-06","t":26.4},{"d":"2013-07-11","t":27.2},{"d":"2013-07-16","t":29.4},{"d":"2013-07-21","t":28.3},{"d":"2013-07-26","t":25.7},
{"d":"2013-08-01","t":24.6},{"d":"2013-08-06","t":24.9},{"d":"2013-08-11","t":23.5},{"d":"2013-08-16","t":23.8},{"d":"2013-08-21","t":22.1},{"d":"2013-08-26","t":22.3},
{"d":"2013-09-01","t":21.6},{"d":"2013-09-06","t":22.0},{"d":"2013-09-11","t":20.3},{"d":"2013-09-16","t":19.6},{"d":"2013-09-21","t":19.2},{"d":"2013-09-26","t":18.1},
{"d":"2013-10-01","t":18.2},{"d":"2013-10-06","t":16.6},{"d":"2013-10-11","t":15.7},{"d":"2013-10-16","t":13.6},{"d":"2013-10-21","t":13.2},{"d":"2013-10-26","t":11.6},
{"d":"2013-11-01","t":11.2},{"d":"2013-11-06","t":9.1},{"d":"2013-11-11","t":8.3},{"d":"2013-11-16","t":6.4},{"d":"2013-11-21","t":5.7},{"d":"2013-11-26","t":3.9},
{"d":"2013-12-01","t":3.4},{"d":"2013-12-06","t":1.8},{"d":"2013-12-11","t":1.4},{"d":"2013-12-16","t":0.6},{"d":"2013-12-21","t":1.3},{"d":"2013-12-26","t":0.5},
{"d":"2014-01-01","t":0.5},{"d":"2014-01-06","t":0.2},{"d":"2014-01-11","t":0.9},{"d":"2014-01-16","t":0.4},{"d":"2014-01-21","t":0.1},{"d":"2014-01-26","t":0.2},
{"d":"2014-02-01","t":0.3},{"d":"2014-02-06","t":0.1},{"d":"2014-02-11","t":0.2},{"d":"2014-02-16","t":0.3},{"d":"2014-02-21","t":0.6},{"d":"2014-02-26","t":0.4},
{"d":"2014-03-01","t":0.5},{"d":"2014-03-06","t":0.9},{"d":"2014-03-11","t":1.1},{"d":"2014-03-16","t":2.2},{"d":"2014-03-21","t":3.4},{"d":"2014-03-26","t":5.6},
{"d":"2014-04-01","t":7.2},{"d":"2014-04-06","t":8.3},{"d":"2014-04-11","t":10.2},{"d":"2014-04-16","t":10.8},{"d":"2014-04-21","t":12.7},{"d":"2014-04-26","t":13.8},
{"d":"2014-05-01","t":15.3},{"d":"2014-05-06","t":16.2},{"d":"2014-05-11","t":18.4},{"d":"2014-05-16","t":18.8},{"d":"2014-05-21","t":20.9},{"d":"2014-05-26","t":21.3},
{"d":"2014-06-01","t":22.8},{"d":"2014-06-06","t":23.2},{"d":"2014-06-11","t":22.6},{"d":"2014-06-16","t":24.1},{"d":"2014-06-21","t":23.6},{"d":"2014-06-26","t":24.7},
{"d":"2014-07-01","t":23.8},{"d":"2014-07-06","t":24.2},{"d":"2014-07-11","t":22.4},{"d":"2014-07-16","t":21.6},{"d":"2014-07-21","t":23.1},{"d":"2014-07-26","t":21.4},
{"d":"2014-08-01","t":21.2},{"d":"2014-08-06","t":22.6},{"d":"2014-08-11","t":20.9},{"d":"2014-08-16","t":20.4},{"d":"2014-08-21","t":22.0},{"d":"2014-08-26","t":22.5},
{"d":"2014-09-01","t":21.7},{"d":"2014-09-06","t":21.3},{"d":"2014-09-11","t":20.2},{"d":"2014-09-16","t":19.6},{"d":"2014-09-21","t":18.6},{"d":"2014-09-26","t":17.8},
{"d":"2014-10-01","t":16.9},{"d":"2014-10-06","t":15.2},{"d":"2014-10-11","t":14.6},{"d":"2014-10-16","t":13.2},{"d":"2014-10-21","t":12.7},{"d":"2014-10-26","t":11.2},
{"d":"2014-11-01","t":10.1},{"d":"2014-11-06","t":8.3},{"d":"2014-11-11","t":7.6},{"d":"2014-11-16","t":6.2},{"d":"2014-11-21","t":5.1},{"d":"2014-11-26","t":3.8},
{"d":"2014-12-01","t":3.3},{"d":"2014-12-06","t":2.4},{"d":"2014-12-11","t":1.6},{"d":"2014-12-16","t":1.3},{"d":"2014-12-21","t":0.9},{"d":"2014-12-26","t":1.4},
{"d":"2015-01-01","t":1.1},{"d":"2015-01-06","t":0.6},{"d":"2015-01-11","t":0.4},{"d":"2015-01-16","t":0.2},{"d":"2015-01-21","t":0.1},{"d":"2015-01-26","t":0.3},
{"d":"2015-02-01","t":0.1},{"d":"2015-02-06","t":0.0},{"d":"2015-02-11","t":0.2},{"d":"2015-02-16","t":0.1},{"d":"2015-02-21","t":0.0},{"d":"2015-02-26","t":0.2},
{"d":"2015-03-01","t":0.3},{"d":"2015-03-06","t":0.1},{"d":"2015-03-11","t":0.6},{"d":"2015-03-16","t":1.2},{"d":"2015-03-21","t":2.8},{"d":"2015-03-26","t":3.4},
{"d":"2015-04-01","t":4.9},{"d":"2015-04-06","t":6.8},{"d":"2015-04-11","t":8.6},{"d":"2015-04-16","t":11.2},{"d":"2015-04-21","t":14.6},{"d":"2015-04-26","t":16.8},
{"d":"2015-05-01","t":19.3},{"d":"2015-05-06","t":22.1},{"d":"2015-05-11","t":24.2},{"d":"2015-05-16","t":25.9},{"d":"2015-05-21","t":23.1},{"d":"2015-05-26","t":20.4},
{"d":"2015-06-01","t":19.6},{"d":"2015-06-06","t":17.8},{"d":"2015-06-11","t":26.4},{"d":"2015-06-16","t":21.1},{"d":"2015-06-21","t":24.8},{"d":"2015-06-26","t":20.2},
{"d":"2015-07-01","t":23.4},{"d":"2015-07-06","t":24.6},{"d":"2015-07-11","t":24.9},{"d":"2015-07-16","t":26.3},{"d":"2015-07-21","t":27.4},{"d":"2015-07-26","t":26.1},
{"d":"2015-08-01","t":26.9},{"d":"2015-08-06","t":25.6},{"d":"2015-08-11","t":27.1},{"d":"2015-08-16","t":26.8},{"d":"2015-08-21","t":28.2},{"d":"2015-08-26","t":25.7},
{"d":"2015-09-01","t":24.9},{"d":"2015-09-06","t":24.1},{"d":"2015-09-11","t":22.6},{"d":"2015-09-16","t":21.4},{"d":"2015-09-21","t":20.2},{"d":"2015-09-26","t":19.6},
{"d":"2015-10-01","t":18.4},{"d":"2015-10-06","t":17.9},{"d":"2015-10-11","t":16.6},{"d":"2015-10-16","t":16.3},{"d":"2015-10-21","t":14.7},{"d":"2015-10-26","t":13.8},
{"d":"2015-11-01","t":12.6},{"d":"2015-11-06","t":12.1},{"d":"2015-11-11","t":11.2},{"d":"2015-11-16","t":11.0},{"d":"2015-11-21","t":10.2},{"d":"2015-11-26","t":9.4},
{"d":"2015-12-01","t":9.1},{"d":"2015-12-06","t":7.6},{"d":"2015-12-11","t":6.8},{"d":"2015-12-16","t":5.1},{"d":"2015-12-21","t":4.3},{"d":"2015-12-26","t":3.5},
{"d":"2010-01-08","t":1.4},{"d":"2010-01-18","t":0.3},{"d":"2010-01-28","t":1.9},{"d":"2010-02-08","t":1.6},{"d":"2010-02-18","t":5.1},{"d":"2010-02-28","t":7.9},
{"d":"2010-03-08","t":9.4},{"d":"2010-03-18","t":9.8},{"d":"2010-03-28","t":12.6},{"d":"2010-04-08","t":11.9},{"d":"2010-04-18","t":16.6},{"d":"2010-04-28","t":18.2},
{"d":"2010-05-08","t":20.8},{"d":"2010-05-18","t":24.1},{"d":"2010-05-28","t":27.6},{"d":"2010-06-08","t":25.2},{"d":"2010-06-18","t":29.4},{"d":"2010-06-28","t":26.0},
{"d":"2010-07-08","t":30.4},{"d":"2010-07-18","t":27.2},{"d":"2010-07-28","t":25.1},{"d":"2010-08-08","t":27.8},{"d":"2010-08-18","t":24.6},{"d":"2010-08-28","t":18.6},
{"d":"2010-09-08","t":17.9},{"d":"2010-09-18","t":20.8},{"d":"2010-09-28","t":15.4},{"d":"2010-10-08","t":16.8},{"d":"2010-10-18","t":13.8},{"d":"2010-10-28","t":11.9},
{"d":"2010-11-08","t":9.3},{"d":"2010-11-18","t":7.4},{"d":"2010-11-28","t":5.2},{"d":"2010-12-08","t":3.1},{"d":"2010-12-18","t":2.1},{"d":"2010-12-28","t":0.9},
{"d":"2011-01-08","t":0.2},{"d":"2011-01-18","t":1.0},{"d":"2011-01-28","t":0.3},{"d":"2011-02-08","t":0.3},{"d":"2011-02-18","t":1.2},{"d":"2011-02-28","t":0.5},
{"d":"2011-03-08","t":2.6},{"d":"2011-03-18","t":3.1},{"d":"2011-03-28","t":7.2},{"d":"2011-04-08","t":6.6},{"d":"2011-04-18","t":11.4},{"d":"2011-04-28","t":10.9},
{"d":"2011-05-08","t":16.2},{"d":"2011-05-18","t":15.9},{"d":"2011-05-28","t":22.4},{"d":"2011-06-08","t":24.6},{"d":"2011-06-18","t":21.3},{"d":"2011-06-28","t":26.9},
{"d":"2011-07-08","t":24.9},{"d":"2011-07-18","t":27.1},{"d":"2011-07-28","t":25.3},{"d":"2011-08-08","t":26.4},{"d":"2011-08-18","t":20.6},{"d":"2011-08-28","t":22.3},
{"d":"2011-09-08","t":20.7},{"d":"2011-09-18","t":16.9},{"d":"2011-09-28","t":15.4},{"d":"2011-10-08","t":14.7},{"d":"2011-10-18","t":12.6},{"d":"2011-10-28","t":10.4},
{"d":"2011-11-08","t":9.1},{"d":"2011-11-18","t":8.2},{"d":"2011-11-28","t":7.1},{"d":"2011-12-08","t":6.4},{"d":"2011-12-18","t":5.2},{"d":"2011-12-28","t":4.2},
{"d":"2012-01-08","t":1.1},{"d":"2012-01-18","t":1.4},{"d":"2012-01-28","t":0.4},{"d":"2012-02-08","t":2.1},{"d":"2012-02-18","t":4.6},{"d":"2012-02-28","t":4.4},
{"d":"2012-03-08","t":9.4},{"d":"2012-03-18","t":9.6},{"d":"2012-03-28","t":14.6},{"d":"2012-04-08","t":13.6},{"d":"2012-04-18","t":17.4},{"d":"2012-04-28","t":16.9},
{"d":"2012-05-08","t":20.2},{"d":"2012-05-18","t":19.9},{"d":"2012-05-28","t":24.6},{"d":"2012-06-08","t":24.8},{"d":"2012-06-18","t":25.9},{"d":"2012-06-28","t":27.2},
{"d":"2012-07-08","t":26.1},{"d":"2012-07-18","t":28.9},{"d":"2012-07-28","t":25.6},{"d":"2012-08-08","t":27.2},{"d":"2012-08-18","t":23.9},{"d":"2012-08-28","t":22.4},
{"d":"2012-09-08","t":20.4},{"d":"2012-09-18","t":19.1},{"d":"2012-09-28","t":16.8},{"d":"2012-10-08","t":13.7},{"d":"2012-10-18","t":13.4},{"d":"2012-10-28","t":10.6},
{"d":"2012-11-08","t":10.2},{"d":"2012-11-18","t":8.4},{"d":"2012-11-28","t":6.8},{"d":"2012-12-08","t":5.2},{"d":"2012-12-18","t":2.2},{"d":"2012-12-28","t":1.1},
{"d":"2013-01-08","t":1.5},{"d":"2013-01-18","t":0.7},{"d":"2013-01-28","t":0.6},{"d":"2013-02-08","t":0.3},{"d":"2013-02-18","t":2.2},{"d":"2013-02-28","t":3.1},
{"d":"2013-03-08","t":5.4},{"d":"2013-03-18","t":8.2},{"d":"2013-03-28","t":11.0},{"d":"2013-04-08","t":13.4},{"d":"2013-04-18","t":16.2},{"d":"2013-04-28","t":18.6},
{"d":"2013-05-08","t":20.3},{"d":"2013-05-18","t":22.8},{"d":"2013-05-28","t":23.3},{"d":"2013-06-08","t":22.8},{"d":"2013-06-18","t":25.7},{"d":"2013-06-28","t":24.4},
{"d":"2013-07-08","t":27.6},{"d":"2013-07-18","t":28.8},{"d":"2013-07-28","t":24.2},{"d":"2013-08-08","t":23.2},{"d":"2013-08-18","t":22.6},{"d":"2013-08-28","t":21.4},
{"d":"2013-09-08","t":21.3},{"d":"2013-09-18","t":20.6},{"d":"2013-09-28","t":18.6},{"d":"2013-10-08","t":15.9},{"d":"2013-10-18","t":14.2},{"d":"2013-10-28","t":11.9},
{"d":"2013-11-08","t":9.4},{"d":"2013-11-18","t":6.9},{"d":"2013-11-28","t":3.2},{"d":"2013-12-08","t":2.3},{"d":"2013-12-18","t":0.4},{"d":"2013-12-28","t":0.9},
{"d":"2014-01-08","t":0.6},{"d":"2014-01-18","t":0.3},{"d":"2014-01-28","t":0.1},{"d":"2014-02-08","t":0.2},{"d":"2014-02-18","t":0.1},{"d":"2014-02-28","t":0.3},
{"d":"2014-03-08","t":0.7},{"d":"2014-03-18","t":2.8},{"d":"2014-03-28","t":6.4},{"d":"2014-04-08","t":9.2},{"d":"2014-04-18","t":11.9},{"d":"2014-04-28","t":15.1},
{"d":"2014-05-08","t":17.3},{"d":"2014-05-18","t":20.1},{"d":"2014-05-28","t":22.6},{"d":"2014-06-08","t":21.9},{"d":"2014-06-18","t":24.5},{"d":"2014-06-28","t":22.1},
{"d":"2014-07-08","t":20.6},{"d":"2014-07-18","t":24.0},{"d":"2014-07-28","t":19.8},{"d":"2014-08-08","t":23.4},{"d":"2014-08-18","t":21.3},{"d":"2014-08-28","t":20.2},
{"d":"2014-09-08","t":22.4},{"d":"2014-09-18","t":18.9},{"d":"2014-09-28","t":16.6},{"d":"2014-10-08","t":15.8},{"d":"2014-10-18","t":12.1},{"d":"2014-10-28","t":10.6},
{"d":"2014-11-08","t":8.8},{"d":"2014-11-18","t":5.6},{"d":"2014-11-28","t":2.9},{"d":"2014-12-08","t":1.9},{"d":"2014-12-18","t":0.6},{"d":"2014-12-28","t":0.8},
{"d":"2015-01-08","t":0.9},{"d":"2015-01-18","t":0.3},{"d":"2015-01-28","t":0.2},{"d":"2015-02-08","t":0.1},{"d":"2015-02-18","t":0.0},{"d":"2015-02-28","t":0.1},
{"d":"2015-03-08","t":0.4},{"d":"2015-03-18","t":1.8},{"d":"2015-03-28","t":4.2},{"d":"2015-04-08","t":7.6},{"d":"2015-04-18","t":12.4},{"d":"2015-04-28","t":17.6},
{"d":"2015-05-08","t":23.6},{"d":"2015-05-18","t":24.8},{"d":"2015-05-28","t":19.8},{"d":"2015-06-08","t":22.6},{"d":"2015-06-18","t":18.4},{"d":"2015-06-28","t":25.6},
{"d":"2015-07-08","t":22.1},{"d":"2015-07-18","t":25.6},{"d":"2015-07-28","t":24.4},{"d":"2015-08-08","t":27.6},{"d":"2015-08-18","t":25.2},{"d":"2015-08-28","t":24.6},
{"d":"2015-09-08","t":23.8},{"d":"2015-09-18","t":21.8},{"d":"2015-09-28","t":18.7},{"d":"2015-10-08","t":17.2},{"d":"2015-10-18","t":15.4},{"d":"2015-10-28","t":13.2},
{"d":"2015-11-08","t":11.6},{"d":"2015-11-18","t":10.6},{"d":"2015-11-28","t":8.8},{"d":"2015-12-08","t":6.1},{"d":"2015-12-18","t":4.6},{"d":"2015-12-28","t":3.2}
    ]
  },
  "encoding": {
    "x": {
      "field": "d",
      "type": "temporal",
      "scale": {"type": "utc", "domain": [{"year": 2009, "month": 7, "date": 6, "utc": true}, {"year": 2016, "month": 5, "date": 10, "utc": true}], "nice": false},
      "axis": {
        "title": null,
        "values": [
          {"year": 2009, "month": 7, "date": 6, "utc": true},
          {"year": 2010, "month": 11, "date": 18, "utc": true},
          {"year": 2012, "month": 4, "date": 1, "utc": true},
          {"year": 2013, "month": 8, "date": 14, "utc": true},
          {"year": 2014, "month": 12, "date": 27, "utc": true},
          {"year": 2016, "month": 5, "date": 10, "utc": true}
        ],
        "format": "%-m/%-d/%Y",
        "labelFont": "Lato",
        "labelFontSize": 14,
        "labelPadding": 10,
        "labelFlush": false,
        "labelOverlap": false,
        "grid": true,
        "gridColor": "#d9d9d9",
        "gridWidth": 1,
        "domainColor": "#c8c8c8",
        "domainWidth": 1.5
      }
    },
    "y": {
      "field": "t",
      "type": "quantitative",
      "scale": {"domain": [-5, 35], "nice": false, "zero": false},
      "axis": {
        "title": "Water Temperature (degrees C)",
        "titleFont": "Lato",
        "titleFontSize": 17,
        "titleFontWeight": "bold",
        "titlePadding": 8,
        "values": [-5, 0, 5, 10, 15, 20, 25, 30, 35],
        "labelFont": "Lato",
        "labelFontSize": 15,
        "labelFontWeight": "bold",
        "labelPadding": 19,
        "grid": true,
        "gridColor": {"condition": {"test": "datum.value === 5 || datum.value === 30", "value": "#d9d9d9"}, "value": "transparent"},
        "domainColor": "#d9d9d9",
        "domainWidth": 1
      }
    }
  },
  "layer": [
    {
      "data": {"name": "fr"},
      "mark": {"type": "point", "filled": false, "size": 729, "strokeWidth": 1.6, "strokeOpacity": 0.95},
      "encoding": {
        "color": {"datum": "Frenchtown"},
        "shape": {
          "datum": "Frenchtown",
          "scale": {
            "domain": ["Frenchtown", "Trenton", "Above Lackawaxen nr Barryville", "Daily Max Criteria"],
            "range": [
              "M-0.25,0A0.25,0.25,0,1,1,0.25,0A0.25,0.25,0,1,1,-0.25,0Z",
              "M-0.25,0A0.25,0.25,0,1,1,0.25,0A0.25,0.25,0,1,1,-0.25,0Z",
              "M-0.25,0A0.25,0.25,0,1,1,0.25,0A0.25,0.25,0,1,1,-0.25,0Z",
              "M-1,-0.05L1,-0.05L1,0.05L-1,0.05Z"
            ]
          },
          "legend": null
        }
      }
    },
    {
      "data": {"name": "tr"},
      "mark": {"type": "point", "filled": false, "size": 729, "strokeWidth": 1.6, "strokeOpacity": 0.95},
      "encoding": {
        "color": {"datum": "Trenton"},
        "shape": {"datum": "Trenton"}
      }
    },
    {
      "data": {"name": "ba"},
      "mark": {"type": "point", "filled": false, "size": 729, "strokeWidth": 1.6, "strokeOpacity": 0.95},
      "encoding": {
        "color": {"datum": "Above Lackawaxen nr Barryville"},
        "shape": {"datum": "Above Lackawaxen nr Barryville"}
      }
    },
    {
      "data": {"name": "crit"},
      "mark": {"type": "line", "strokeWidth": 4, "strokeCap": "round"},
      "encoding": {
        "color": {
          "datum": "Daily Max Criteria",
          "scale": {
            "domain": ["Frenchtown", "Trenton", "Above Lackawaxen nr Barryville", "Daily Max Criteria"],
            "range": ["#4F81BD", "#C0504D", "#9BBB59", "#8064A2"]
          },
          "legend": {
            "title": null,
            "orient": "none",
            "direction": "horizontal",
            "columns": 4,
            "legendX": 48,
            "legendY": 543,
            "labelFont": "Lato",
            "labelFontSize": 15,
            "labelColor": "#000000",
            "labelLimit": 400,
            "labelOffset": 0,
            "columnPadding": 24,
            "symbolSize": 729,
            "symbolStrokeWidth": 1.6
          }
        }
      }
    }
  ]
}
